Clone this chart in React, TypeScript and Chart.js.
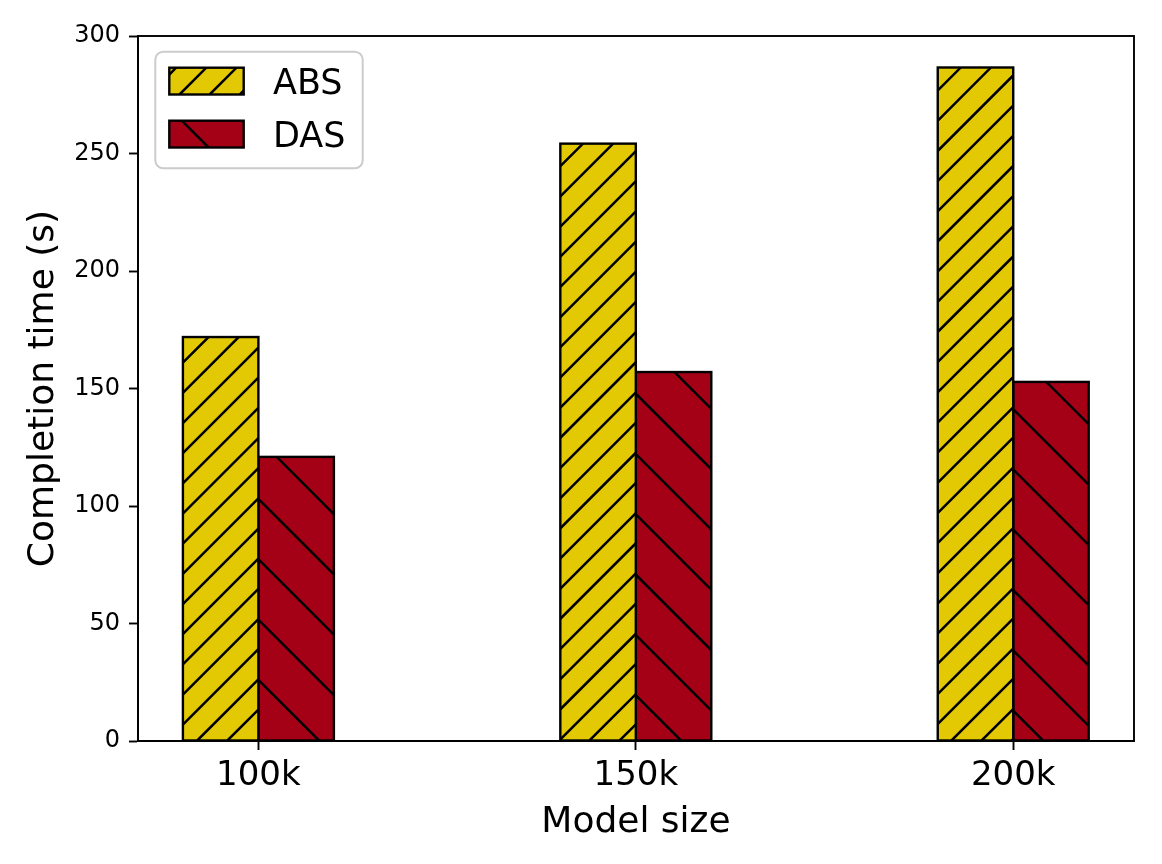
import React, { useEffect, useRef } from "react";
import { Chart, registerables } from "chart.js";

Chart.register(...registerables);

// values
const categories = ["100k", "150k", "200k"];
const positions = [0, 1, 2];
const absTimes = [171.9, 254.2, 286.6];
const dasTimes = [120.9, 157.0, 152.8];
const yTicks = [0, 50, 100, 150, 200, 250, 300];

const ABS_COLOR = "#e2c904";
const DAS_COLOR = "#a40016";
const FONT = "'DejaVu Sans', sans-serif";

// hatch lines are anchored to the canvas, like matplotlib does with the figure
function drawHatch(
  ctx: CanvasRenderingContext2D,
  left: number,
  top: number,
  right: number,
  bottom: number,
  kind: "/" | "\\"
) {
  ctx.save();
  ctx.beginPath();
  ctx.rect(left, top, right - left, bottom - top);
  ctx.clip();
  ctx.strokeStyle = "#000";
  ctx.lineWidth = 2.5;
  ctx.beginPath();
  if (kind === "/") {
    const p = 30.17;
    const c = 2.5;
    const kMin = Math.floor((left + top - c) / p) - 1;
    const kMax = Math.ceil((right + bottom - c) / p) + 1;
    for (let k = kMin; k <= kMax; k++) {
      const s = c + k * p;
      ctx.moveTo(s - bottom, bottom);
      ctx.lineTo(s - top, top);
    }
  } else {
    const p = 60.33;
    const c = -0.8;
    const kMin = Math.floor((top - right - c) / p) - 1;
    const kMax = Math.ceil((bottom - left - c) / p) + 1;
    for (let k = kMin; k <= kMax; k++) {
      const s = c + k * p;
      ctx.moveTo(top - s, top);
      ctx.lineTo(bottom - s, bottom);
    }
  }
  ctx.stroke();
  ctx.restore();
}

const hatchPlugin = {
  id: "hatch",
  afterDatasetDraw(chart: any, args: any) {
    const ctx = chart.ctx;
    const kind = args.index === 0 ? "/" : "\\";
    args.meta.data.forEach((bar: any) => {
      const { x, y, base, width } = bar.getProps(["x", "y", "base", "width"], true);
      const l = x - width / 2;
      const t = Math.min(y, base);
      const b = Math.max(y, base);
      drawHatch(ctx, l, t, l + width, b, kind);
      // edge centred on the bar outline
      ctx.save();
      ctx.strokeStyle = "#000";
      ctx.lineWidth = 2.4;
      ctx.strokeRect(l, t, width, b - t);
      ctx.restore();
    });
  },
};

const framePlugin = {
  id: "frame",
  afterDraw(chart: any) {
    const { ctx, chartArea } = chart;
    ctx.save();
    ctx.strokeStyle = "#000";
    ctx.lineWidth = 1.9;
    ctx.strokeRect(chartArea.left, chartArea.top, chartArea.right - chartArea.left, chartArea.bottom - chartArea.top);

    // legend box, upper left
    const bx = 155.3, by = 51.7, bw = 207.4, bh = 116.6, r = 8;
    ctx.beginPath();
    ctx.roundRect(bx, by, bw, bh, r);
    ctx.fillStyle = "rgba(255,255,255,0.8)";
    ctx.fill();
    ctx.strokeStyle = "#cccccc";
    ctx.lineWidth = 2;
    ctx.stroke();

    const items = [
      { label: chart.data.datasets[0].label, color: ABS_COLOR, kind: "/" as const, top: 67.7, baseline: 94 },
      { label: chart.data.datasets[1].label, color: DAS_COLOR, kind: "\\" as const, top: 120.7, baseline: 146.7 },
    ];
    items.forEach((it) => {
      const l = 169.3, rgt = 243.7, t = it.top, b = it.top + 26.8;
      ctx.fillStyle = it.color;
      ctx.fillRect(l, t, rgt - l, b - t);
      drawHatch(ctx, l, t, rgt, b, it.kind);
      ctx.strokeStyle = "#000";
      ctx.lineWidth = 2.4;
      ctx.strokeRect(l, t, rgt - l, b - t);
      ctx.fillStyle = "#000";
      ctx.font = `35px ${FONT}`;
      ctx.textBaseline = "alphabetic";
      ctx.textAlign = "left";
      ctx.fillText(it.label, 273, it.baseline);
    });
    ctx.restore();
  },
};

export default function App() {
  const canvasRef = useRef<HTMLCanvasElement>(null);
  const chartRef = useRef<Chart | null>(null);

  useEffect(() => {
    document.body.style.margin = "0";
    if (!canvasRef.current) return;
    if (chartRef.current) {
      chartRef.current.destroy();
      chartRef.current = null;
    }
    Chart.defaults.font.family = FONT;
    Chart.defaults.color = "#000";

    chartRef.current = new Chart(canvasRef.current, {
      type: "bar",
      data: {
        datasets: [
          {
            label: "ABS",
            data: positions.map((x, i) => ({ x, y: absTimes[i] })),
            backgroundColor: ABS_COLOR,
            borderWidth: 0,
            categoryPercentage: 0.4,
            barPercentage: 1,
          },
          {
            label: "DAS",
            data: positions.map((x, i) => ({ x, y: dasTimes[i] })),
            backgroundColor: DAS_COLOR,
            borderWidth: 0,
            categoryPercentage: 0.4,
            barPercentage: 1,
          },
        ],
      },
      options: {
        responsive: true,
        maintainAspectRatio: false,
        animation: false,
        layout: { padding: { top: 36, right: 28, left: 0, bottom: 0 } },
        plugins: {
          legend: { display: false },
          tooltip: { enabled: false },
        },
        scales: {
          x: {
            type: "linear",
            min: -0.319,
            max: 2.32,
            offset: false,
            afterBuildTicks: (axis: any) => {
              axis.ticks = positions.map((v) => ({ value: v }));
            },
            afterFit: (axis: any) => {
              axis.height = 123;
            },
            ticks: {
              font: { size: 34 },
              padding: 6,
              callback: (value: any) => categories[positions.indexOf(Number(value))] ?? "",
            },
            grid: {
              offset: false,
              drawOnChartArea: false,
              drawTicks: true,
              tickLength: 9,
              tickWidth: 1.9,
              tickColor: "#000",
            },
            border: { display: true, color: "#000", width: 1.9 },
            title: {
              display: true,
              text: "Model size",
              font: { size: 36 },
              padding: { top: 0, bottom: 20 },
            },
          },
          y: {
            min: 0,
            max: 300,
            afterBuildTicks: (axis: any) => {
              axis.ticks = yTicks.map((v) => ({ value: v }));
            },
            afterFit: (axis: any) => {
              axis.width = 138;
            },
            ticks: {
              font: { size: 24 },
              padding: 9,
            },
            grid: {
              drawOnChartArea: false,
              drawTicks: true,
              tickLength: 9,
              tickWidth: 1.9,
              tickColor: "#000",
            },
            border: { display: true, color: "#000", width: 1.9 },
            title: {
              display: true,
              text: "Completion time (s)",
              font: { size: 36 },
              padding: { top: 22, bottom: 0 },
            },
          },
        },
      },
      plugins: [hatchPlugin, framePlugin],
    });

    return () => {
      if (chartRef.current) {
        chartRef.current.destroy();
        chartRef.current = null;
      }
    };
  }, []);

  return (
    <div style={{ width: 1162, height: 864, position: "relative", background: "#fff" }}>
      <canvas ref={canvasRef} />
    </div>
  );
}
